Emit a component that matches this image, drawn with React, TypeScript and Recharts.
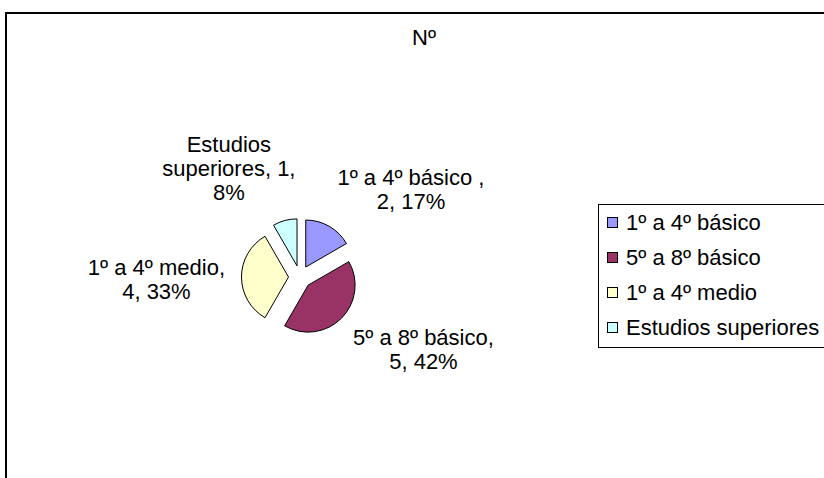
import { PieChart, Pie, Cell, Legend, Sector } from "recharts";

const categories = ["1º a 4º básico ", "5º a 8º básico", "1º a 4º medio", "Estudios superiores"];
const counts = [2, 5, 4, 1];
const colors = ["#9999FF", "#993366", "#FFFFCC", "#CCFFFF"];

const chartTitle = "Nº";

const data = categories.map((name, i) => ({ name, value: counts[i] }));

const FONT = '"Liberation Sans", Arial, sans-serif';
const FS = 22;
const LINE_H = 24;
const RAD = Math.PI / 180;
const EXPLODE = 11.5;

let ctx: CanvasRenderingContext2D | null = null;
const textWidth = (s: string) => {
  if (!ctx) {
    ctx = document.createElement("canvas").getContext("2d");
    if (ctx) ctx.font = `${FS}px "Liberation Sans", Arial, sans-serif`;
  }
  return ctx ? ctx.measureText(s).width : s.length * FS * 0.5;
};

// greedy word wrap, roughly what Excel does with its label boxes
const wrap = (text: string, max = 16) => {
  const words = text.split(" ");
  const lines: string[] = [];
  let cur = "";
  words.forEach((w) => {
    const next = cur ? cur + " " + w : w;
    if (next.length > max && cur) {
      lines.push(cur);
      cur = w;
    } else {
      cur = next;
    }
  });
  if (cur) lines.push(cur);
  return lines;
};

const ExplodedSector = (props: any) => {
  const { cx, cy, midAngle } = props;
  const dx = Math.cos(-midAngle * RAD) * EXPLODE;
  const dy = Math.sin(-midAngle * RAD) * EXPLODE;
  return <Sector {...props} cx={cx + dx} cy={cy + dy} />;
};

const renderLabel = (props: any) => {
  const { cx, cy, midAngle, outerRadius, percent, value, name } = props;
  const ux = Math.cos(-midAngle * RAD);
  const uy = Math.sin(-midAngle * RAD);
  const lines = wrap(`${name}, ${value}, ${Math.round(percent * 100)}%`);
  const w = Math.max(...lines.map(textWidth));
  const h = lines.length * LINE_H;
  const r0 = outerRadius + 28;
  // labels near the vertical axis get pushed out sideways less
  const side = Math.sign(ux) * Math.min(1, Math.abs(ux) * 3) * (w / 2);
  const centerX = cx + ux * r0 + side;
  const centerY = cy + uy * r0 + uy * (h / 2) + (uy > 0 ? 4 : 0);
  const firstBase = centerY - h / 2 + 18;
  return (
    <text
      x={centerX}
      y={firstBase}
      textAnchor="middle"
      fill="#000"
      fontFamily={FONT}
      fontSize={FS}
    >
      {lines.map((l, i) => (
        <tspan key={i} x={centerX} dy={i === 0 ? 0 : LINE_H}>
          {l}
        </tspan>
      ))}
    </text>
  );
};

const renderLegend = (props: any) => {
  const payload = [...(props.payload || [])].sort(
    (a: any, b: any) => categories.indexOf(a.value) - categories.indexOf(b.value)
  );
  return (
    <div
      style={{
        width: 240,
        height: 140,
        paddingBottom: 2,
        border: "1px solid #000",
        background: "#fff",
        fontFamily: FONT,
        fontSize: FS,
        color: "#000",
        boxSizing: "content-box",
      }}
    >
      {payload.map((entry: any, i: number) => (
        <div key={i} style={{ height: 35, display: "flex", alignItems: "center", paddingLeft: 8, whiteSpace: "nowrap" }}>
          <span
            style={{
              display: "inline-block",
              width: 9,
              height: 9,
              border: "1px solid #000",
              background: entry.color,
              marginRight: 8,
            }}
          />
          <span>{String(entry.value).trim()}</span>
        </div>
      ))}
    </div>
  );
};

export default function App() {
  return (
    <div
      style={{
        position: "fixed",
        left: 0,
        top: 0,
        width: 824,
        height: 478,
        overflow: "hidden",
        background: "#fff",
      }}
    >
      <div
        style={{
          position: "absolute",
          left: 5,
          top: 12,
          width: 900,
          height: 600,
          border: "2px solid #000",
        }}
      />
      <div
        style={{
          position: "absolute",
          left: 0,
          top: 25,
          width: 848,
          textAlign: "center",
          fontFamily: FONT,
          fontSize: FS,
          color: "#000",
        }}
      >
        {chartTitle}
      </div>
      <div style={{ position: "absolute", left: 0, top: 0 }}>
        <PieChart width={824} height={478} margin={{ top: 0, right: 0, bottom: 0, left: 0 }}>
          <Pie
            data={data}
            dataKey="value"
            nameKey="name"
            cx={300}
            cy={277}
            outerRadius={47}
            startAngle={90}
            endAngle={-270}
            stroke="#000"
            strokeWidth={1}
            label={renderLabel}
            labelLine={false}
            shape={ExplodedSector}
            isAnimationActive={false}
          >
            {data.map((d, i) => (
              <Cell key={d.name} fill={colors[i]} />
            ))}
          </Pie>
          <Legend
            layout="vertical"
            verticalAlign="middle"
            align="right"
            content={renderLegend}
            wrapperStyle={{ left: 598, top: 204, right: "auto" }}
          />
        </PieChart>
      </div>
    </div>
  );
}
